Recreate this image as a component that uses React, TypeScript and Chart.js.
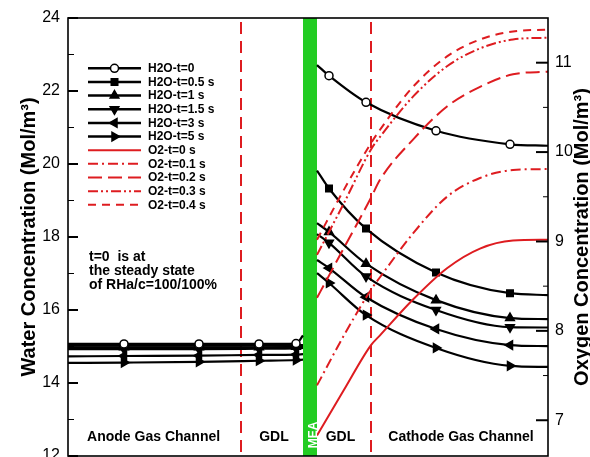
import React, { useEffect, useRef } from 'react';
import { Chart, registerables } from 'chart.js';

Chart.register(...registerables);

const WIDTH = 590;
const HEIGHT = 457;
const FONT = "'Liberation Sans', Arial, Helvetica, sans-serif";
const RED = 'rgb(222,28,32)';
const GREEN = 'rgb(34,204,34)';

// through-plane position (arbitrary units)
const ANODE_X = [0, 5.6, 13.1, 19.1, 22.8, 23.5];
const CATHODE_X = [24.9, 26.1, 29.8, 36.8, 44.2, 48];
const MARKER_X = [5.6, 13.1, 19.1, 22.8, 26.1, 29.8, 36.8, 44.2];
const O2_X = [24.9, 27.6, 30.3, 31.2, 34.5, 37.9, 41.2, 44.5, 48];
const X_MIN = 0;
const X_MAX = 48;
const BOUNDARY_X = [17.3, 30.3];
const MEA_X = [23.5, 24.9];

// water concentration (Mol/m3)
const H2O_LABELS = ['H2O-t=0', 'H2O-t=0.5 s', 'H2O-t=1 s', 'H2O-t=1.5 s', 'H2O-t=3 s', 'H2O-t=5 s'];
const H2O_T0_ANODE = [15.07, 15.07, 15.07, 15.07, 15.08, 15.3];
const H2O_T05_ANODE = [15.02, 15.02, 15.02, 15.02, 15.03, 15.04];
const H2O_T1_ANODE = [14.98, 14.98, 14.98, 14.98, 14.99, 15.0];
const H2O_T15_ANODE = [14.93, 14.93, 14.93, 14.94, 14.95, 14.96];
const H2O_T3_ANODE = [14.73, 14.74, 14.75, 14.77, 14.78, 14.79];
const H2O_T5_ANODE = [14.55, 14.56, 14.58, 14.61, 14.63, 14.64];
const H2O_T0_CATHODE = [22.71, 22.42, 21.69, 20.91, 20.54, 20.5];
const H2O_T05_CATHODE = [19.82, 19.33, 18.23, 17.03, 16.46, 16.41];
const H2O_T1_CATHODE = [18.38, 18.14, 17.27, 16.27, 15.78, 15.75];
const H2O_T15_CATHODE = [18.08, 17.84, 16.92, 16.0, 15.53, 15.52];
const H2O_T3_CATHODE = [17.37, 17.15, 16.35, 15.48, 15.04, 15.01];
const H2O_T5_CATHODE = [17.01, 16.74, 15.86, 14.96, 14.47, 14.44];

// oxygen concentration (Mol/m3)
const O2_LABELS = ['O2-t=0 s', 'O2-t=0.1 s', 'O2-t=0.2 s', 'O2-t=0.3 s', 'O2-t=0.4 s'];
const O2_T0 = [6.83, 7.34, 7.84, 7.95, 8.35, 8.7, 8.92, 9.01, 9.02];
const O2_T01 = [7.39, 7.95, 8.46, 8.6, 9.09, 9.5, 9.71, 9.8, 9.81];
const O2_T02 = [8.37, 8.93, 9.49, 9.69, 10.14, 10.51, 10.73, 10.87, 10.9];
const O2_T03 = [8.85, 9.43, 10.03, 10.17, 10.62, 10.96, 11.16, 11.26, 11.28];
const O2_T04 = [9.02, 9.58, 10.1, 10.25, 10.73, 11.07, 11.26, 11.35, 11.37];

// axes
const WATER_MIN = 12;
const WATER_MAX = 24;
const WATER_TICKS = [12, 14, 16, 18, 20, 22, 24];
const WATER_MINOR = [13, 15, 17, 19, 21, 23];
const O2_MIN = 6.6;
const O2_MAX = 11.5;
const O2_TICKS = [7, 8, 9, 10, 11];
const O2_MINOR = [7.5, 8.5, 9.5, 10.5];

const WATER_TITLE = 'Water Concentration (Mol/m³)';
const O2_TITLE = 'Oxygen Concentration (Mol/m³)';

const REGION_LABELS = ['Anode Gas Channel', 'GDL', 'GDL', 'Cathode Gas Channel'];
const REGION_X = [8.56, 20.6, 27.25, 39.3];
const REGION_Y = 12.52; // in water units
const MEA_LABEL = 'MEA';
const NOTE_LINES = ['t=0  is at', 'the steady state', 'of RHa/c=100/100%'];

const H2O_STYLES = [
  { style: 'circle', rot: 0, r: 4, fill: '#ffffff' },
  { style: 'rect', rot: 0, r: 4.6, fill: '#000000' },
  { style: 'triangle', rot: 0, r: 5, fill: '#000000' },
  { style: 'triangle', rot: 180, r: 5, fill: '#000000' },
  { style: 'triangle', rot: 270, r: 5, fill: '#000000' },
  { style: 'triangle', rot: 90, r: 5, fill: '#000000' },
];
const O2_DASHES = [[], [10, 4, 2, 4], [14, 6], [10, 3, 2, 3, 2, 3], [8, 6]];

function joinSeries(anode: number[], cathode: number[]) {
  return [
    ...ANODE_X.map((x, i) => ({ x, y: anode[i] })),
    { x: (MEA_X[0] + MEA_X[1]) / 2, y: null },
    ...CATHODE_X.map((x, i) => ({ x, y: cathode[i] })),
  ];
}

function drawMarker(ctx: CanvasRenderingContext2D, s: any, x: number, y: number) {
  ctx.save();
  ctx.fillStyle = s.fill;
  ctx.strokeStyle = '#000';
  ctx.lineWidth = 1.5;
  ctx.setLineDash([]);
  ctx.beginPath();
  if (s.style === 'circle') {
    ctx.arc(x, y, s.r, 0, Math.PI * 2);
  } else if (s.style === 'rect') {
    const h = s.r * Math.SQRT1_2;
    ctx.rect(x - h, y - h, 2 * h, 2 * h);
  } else {
    let rad = (s.rot * Math.PI) / 180;
    ctx.moveTo(x + Math.sin(rad) * s.r, y - Math.cos(rad) * s.r);
    rad += (2 * Math.PI) / 3;
    ctx.lineTo(x + Math.sin(rad) * s.r, y - Math.cos(rad) * s.r);
    rad += (2 * Math.PI) / 3;
    ctx.lineTo(x + Math.sin(rad) * s.r, y - Math.cos(rad) * s.r);
    ctx.closePath();
  }
  ctx.fill();
  ctx.stroke();
  ctx.restore();
}

const decor = {
  id: 'decor',
  beforeDatasetsDraw(chart: any) {
    const { ctx, chartArea: a, scales } = chart;
    const xs = scales.x;
    ctx.save();
    const g1 = xs.getPixelForValue(MEA_X[0]);
    const g2 = xs.getPixelForValue(MEA_X[1]);
    ctx.fillStyle = GREEN;
    ctx.fillRect(g1, a.top, g2 - g1, a.bottom - a.top);
    ctx.strokeStyle = RED;
    ctx.lineWidth = 2;
    ctx.setLineDash([12, 7]);
    BOUNDARY_X.forEach((v) => {
      const px = Math.round(xs.getPixelForValue(v));
      ctx.beginPath();
      ctx.moveTo(px, a.top + 4);
      ctx.lineTo(px, a.bottom);
      ctx.stroke();
    });
    ctx.restore();
  },
  afterDatasetsDraw(chart: any) {
    const { ctx, chartArea: a, scales } = chart;
    const xs = scales.x;
    const ys = scales.y;
    const y1 = scales.y1;
    ctx.save();
    // frame
    ctx.strokeStyle = '#000';
    ctx.lineWidth = 1.6;
    ctx.setLineDash([]);
    ctx.strokeRect(a.left, a.top, a.right - a.left, a.bottom - a.top);
    // inward ticks
    ctx.lineWidth = 2;
    const tick = (x0: number, x1: number, y: number) => {
      ctx.beginPath();
      ctx.moveTo(x0, y);
      ctx.lineTo(x1, y);
      ctx.stroke();
    };
    WATER_TICKS.forEach((v) => tick(a.left, a.left + 10, ys.getPixelForValue(v)));
    ctx.lineWidth = 1;
    WATER_MINOR.forEach((v) => tick(a.left, a.left + 6, ys.getPixelForValue(v)));
    ctx.lineWidth = 2;
    O2_TICKS.forEach((v) => tick(a.right - 12, a.right, y1.getPixelForValue(v)));
    ctx.lineWidth = 1;
    O2_MINOR.forEach((v) => tick(a.right - 5, a.right, y1.getPixelForValue(v)));

    // MEA label
    ctx.save();
    ctx.translate(316.5, 435);
    ctx.rotate(-Math.PI / 2);
    ctx.fillStyle = '#fff';
    ctx.font = `bold 12px ${FONT}`;
    ctx.textAlign = 'center';
    ctx.textBaseline = 'alphabetic';
    ctx.fillText(MEA_LABEL, 0, 0);
    ctx.restore();

    // region labels
    ctx.fillStyle = '#000';
    ctx.font = `bold 14px ${FONT}`;
    ctx.textAlign = 'center';
    ctx.textBaseline = 'middle';
    REGION_LABELS.forEach((t, i) => {
      ctx.fillText(t, xs.getPixelForValue(REGION_X[i]), ys.getPixelForValue(REGION_Y));
    });

    // note
    ctx.textAlign = 'left';
    ctx.font = `bold 14px ${FONT}`;
    NOTE_LINES.forEach((t, i) => ctx.fillText(t, 89, 257.5 + i * 14));

    // legend
    const lx0 = 88;
    const lx1 = 141;
    const lxm = 114.5;
    const ly0 = 68.3;
    const dy = 13.65;
    ctx.font = `bold 12px ${FONT}`;
    ctx.textBaseline = 'middle';
    H2O_LABELS.forEach((t, i) => {
      const y = ly0 + i * dy;
      ctx.strokeStyle = '#000';
      ctx.lineWidth = 2.5;
      ctx.setLineDash([]);
      ctx.beginPath();
      ctx.moveTo(lx0, y);
      ctx.lineTo(lx1, y);
      ctx.stroke();
      drawMarker(ctx, H2O_STYLES[i], lxm, y);
      ctx.fillStyle = '#000';
      ctx.fillText(t, 148, y + 0.5);
    });
    O2_LABELS.forEach((t, i) => {
      const y = ly0 + (i + 6) * dy;
      ctx.strokeStyle = RED;
      ctx.lineWidth = 2;
      ctx.setLineDash(O2_DASHES[i]);
      ctx.beginPath();
      ctx.moveTo(lx0, y);
      ctx.lineTo(lx1, y);
      ctx.stroke();
      ctx.setLineDash([]);
      ctx.fillStyle = '#000';
      ctx.fillText(t, 148, y + 0.5);
    });

    // axis titles
    ctx.font = `bold 20px ${FONT}`;
    ctx.textAlign = 'center';
    ctx.textBaseline = 'alphabetic';
    const cy = (a.top + a.bottom) / 2;
    ctx.save();
    ctx.translate(35, cy);
    ctx.rotate(-Math.PI / 2);
    ctx.fillText(WATER_TITLE, 0, 0);
    ctx.restore();
    ctx.save();
    ctx.translate(588, cy);
    ctx.rotate(-Math.PI / 2);
    ctx.fillText(O2_TITLE, 0, 0);
    ctx.restore();

    ctx.restore();
  },
};

export default function App() {
  const ref = useRef<HTMLCanvasElement | null>(null);
  useEffect(() => {
    if (!ref.current) return;
    const h2oAnode = [H2O_T0_ANODE, H2O_T05_ANODE, H2O_T1_ANODE, H2O_T15_ANODE, H2O_T3_ANODE, H2O_T5_ANODE];
    const h2oCathode = [H2O_T0_CATHODE, H2O_T05_CATHODE, H2O_T1_CATHODE, H2O_T15_CATHODE, H2O_T3_CATHODE, H2O_T5_CATHODE];
    const o2 = [O2_T0, O2_T01, O2_T02, O2_T03, O2_T04];

    const o2Sets = O2_LABELS.map((label, i) => ({
      label,
      yAxisID: 'y1',
      data: O2_X.map((x, j) => ({ x, y: o2[i][j] })),
      borderColor: RED,
      borderWidth: 2,
      borderDash: O2_DASHES[i],
      pointRadius: 0,
      cubicInterpolationMode: 'monotone',
      fill: false,
    }));
    const h2oSets = H2O_LABELS.map((label, i) => ({
      label,
      yAxisID: 'y',
      data: joinSeries(h2oAnode[i], h2oCathode[i]),
      borderColor: '#000',
      borderWidth: 2.2,
      pointStyle: H2O_STYLES[i].style,
      rotation: H2O_STYLES[i].rot,
      pointRadius: (c: any) => (c.raw && MARKER_X.includes(c.raw.x) ? H2O_STYLES[i].r : 0),
      pointBackgroundColor: H2O_STYLES[i].fill,
      pointBorderColor: '#000',
      pointBorderWidth: 1.5,
      cubicInterpolationMode: 'monotone',
      spanGaps: false,
      fill: false,
    }));

    const fixY = (w: number) => (s: any) => {
      s.width = w;
      s.paddingTop = 0;
      s.paddingBottom = 0;
    };

    const chart = new Chart(ref.current, {
      type: 'line',
      data: { datasets: [...o2Sets, ...h2oSets] as any },
      options: {
        animation: false,
        responsive: false,
        devicePixelRatio: 1,
        layout: { padding: { top: 18, bottom: 1, left: 0, right: 0 } },
        plugins: { legend: { display: false }, tooltip: { enabled: false } },
        events: [],
        scales: {
          x: { type: 'linear', min: X_MIN, max: X_MAX, display: false },
          y: {
            type: 'linear',
            position: 'left',
            min: WATER_MIN,
            max: WATER_MAX,
            afterFit: fixY(68),
            afterBuildTicks: (s: any) => { s.ticks = WATER_TICKS.map((v) => ({ value: v })); },
            grid: { display: false, drawTicks: false },
            border: { display: false },
            ticks: { color: '#000', font: { family: FONT, size: 16 }, padding: 8, autoSkip: false },
          },
          y1: {
            type: 'linear',
            position: 'right',
            min: O2_MIN,
            max: O2_MAX,
            afterFit: fixY(42),
            afterBuildTicks: (s: any) => { s.ticks = O2_TICKS.map((v) => ({ value: v })); },
            grid: { display: false, drawTicks: false },
            border: { display: false },
            ticks: { color: '#000', font: { family: FONT, size: 16 }, padding: 7, autoSkip: false },
          },
        },
      } as any,
      plugins: [decor],
    });
    return () => chart.destroy();
  }, []);

  return (
    <div style={{ position: 'fixed', left: 0, top: 0, width: WIDTH, height: HEIGHT, background: '#fff' }}>
      <canvas ref={ref} width={WIDTH} height={HEIGHT} style={{ display: 'block' }} />
    </div>
  );
}
